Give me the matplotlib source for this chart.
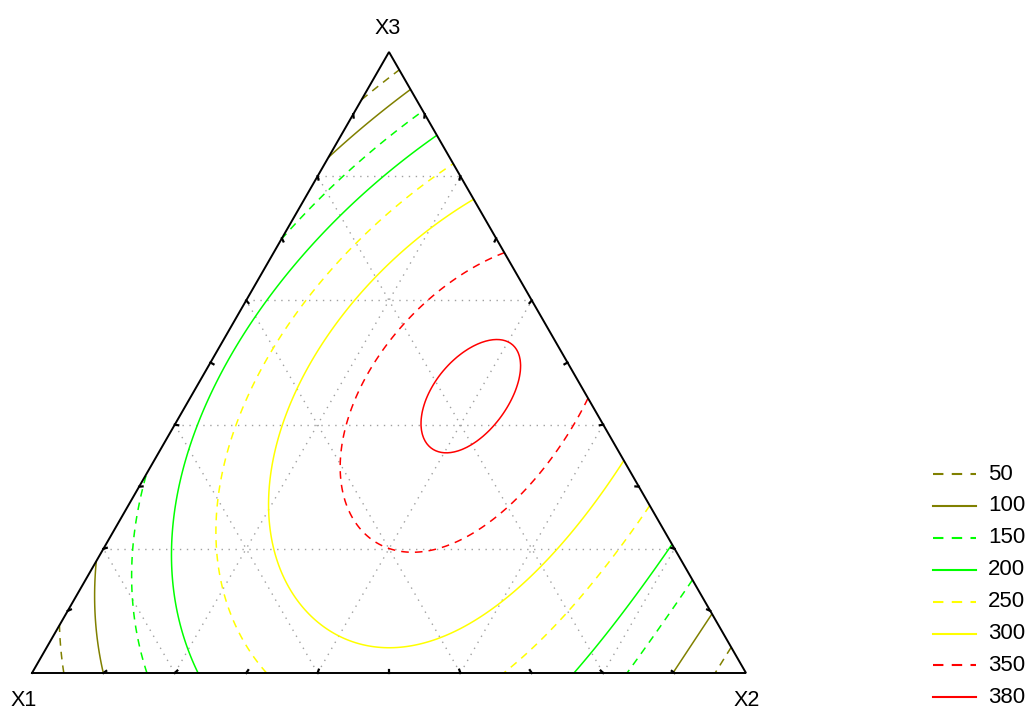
import numpy as np
import matplotlib
matplotlib.use("Agg")
import matplotlib.pyplot as plt
import matplotlib.tri as mtri
from matplotlib.lines import Line2D

plt.rcParams['font.family'] = ['Liberation Sans', 'DejaVu Sans']

# Mixture response model (Scheffé polynomial) coefficients
coef_linear = [7.13, 11.83, 0.39]                 # x1, x2, x3
coef_binary = [1099.03, 689.59, 1441.69]          # x1x2, x1x3, x2x3
coef_cubic = [40.16, -48.28, -427.62]             # xixj(xi-xj): 12, 13, 23
coef_quartic_ternary = [158.93, 63.22, 172.14]    # x1^2x2x3, x1x2^2x3, x1x2x3^2
coef_quartic_binary = [-161.07, -52.48, -91.23]   # xixj(xi-xj)^2: 12, 13, 23

levels = [50, 100, 150, 200, 250, 300, 350, 380]
level_colors = ['#808000', '#808000', '#00ff00', '#00ff00',
                '#ffff00', '#ffff00', '#ff0000', '#ff0000']
level_dashed = [True, False, True, False, True, False, True, False]
axis_names = ['X1', 'X2', 'X3']

W, H = 1032, 714
V1 = np.array([32.0, 673.0])
V2 = np.array([746.0, 673.0])
V3 = np.array([389.0, 52.0])
DASH = (0, (5, 4))


def to_px(x1, x2, x3):
    x1, x2, x3 = np.asarray(x1, float), np.asarray(x2, float), np.asarray(x3, float)
    return (x1 * V1[0] + x2 * V2[0] + x3 * V3[0],
            x1 * V1[1] + x2 * V2[1] + x3 * V3[1])


def response(x1, x2, x3):
    c = (coef_linear + coef_binary + coef_cubic
         + coef_quartic_ternary + coef_quartic_binary)
    terms = [x1, x2, x3,
             x1 * x2, x1 * x3, x2 * x3,
             x1 * x2 * (x1 - x2), x1 * x3 * (x1 - x3), x2 * x3 * (x2 - x3),
             x1 * x1 * x2 * x3, x1 * x2 * x2 * x3, x1 * x2 * x3 * x3,
             x1 * x2 * (x1 - x2) ** 2, x1 * x3 * (x1 - x3) ** 2, x2 * x3 * (x2 - x3) ** 2]
    return sum(ci * t for ci, t in zip(c, terms))


fig = plt.figure(figsize=(W / 100, H / 100), dpi=100)
ax = fig.add_axes([0, 0, 1, 1])
ax.set_xlim(0, W)
ax.set_ylim(H, 0)
ax.axis('off')

# dotted grid every 0.2 in all three directions
for c in [0.2, 0.4, 0.6, 0.8]:
    segs = [((1 - c, 0, c), (0, 1 - c, c)),
            ((c, 1 - c, 0), (c, 0, 1 - c)),
            ((1 - c, c, 0), (0, c, 1 - c))]
    for a, b in segs:
        xs, ys = to_px(*np.array([a, b]).T)
        ax.plot(xs, ys, color='#a0a0a0', lw=1.0, ls=(0, (1, 4)), zorder=1)

# response surface on a fine triangular lattice
n = 220
I, J = np.meshgrid(np.arange(n + 1), np.arange(n + 1))
m = I + J <= n
b2 = I[m] / n
b3 = J[m] / n
b1 = 1 - b2 - b3
px, py = to_px(b1, b2, b3)
z = response(b1, b2, b3)
tri = mtri.Triangulation(px, py)
for lev, col, dashed in zip(levels, level_colors, level_dashed):
    cs = ax.tricontour(tri, z, levels=[lev], colors=[col], linewidths=1.1, zorder=2)
    if dashed:
        cs.set_linestyle(DASH)

# triangle outline
ax.plot(*np.array([V1, V2, V3, V1]).T, color='black', lw=1.4, zorder=3,
        solid_joinstyle='miter')

# small inward ticks every 0.1 along each edge
centroid = (V1 + V2 + V3) / 3
for A, B in [(V1, V2), (V2, V3), (V3, V1)]:
    for t in np.arange(1, 10) / 10:
        p = A + t * (B - A)
        d = centroid - p
        d = d / np.hypot(*d) * 3.5
        ax.plot([p[0], p[0] + d[0]], [p[1], p[1] + d[1]], color='black', lw=1.6, zorder=3)

# vertex labels
ax.text(24, 701, axis_names[0], ha='center', va='center', fontsize=15.5)
ax.text(747, 701, axis_names[1], ha='center', va='center', fontsize=15.5)
ax.text(388, 29, axis_names[2], ha='center', va='center', fontsize=15.5)

# legend
for k, (lev, col, dashed) in enumerate(zip(levels, level_colors, level_dashed)):
    yy = 474 + k * 31.9
    ln = Line2D([933, 976], [yy, yy], color=col, lw=1.5,
                ls=DASH if dashed else '-')
    ax.add_line(ln)
    ax.text(988, yy, str(lev), ha='left', va='center', fontsize=16)

fig.savefig("out.png", dpi=100)
